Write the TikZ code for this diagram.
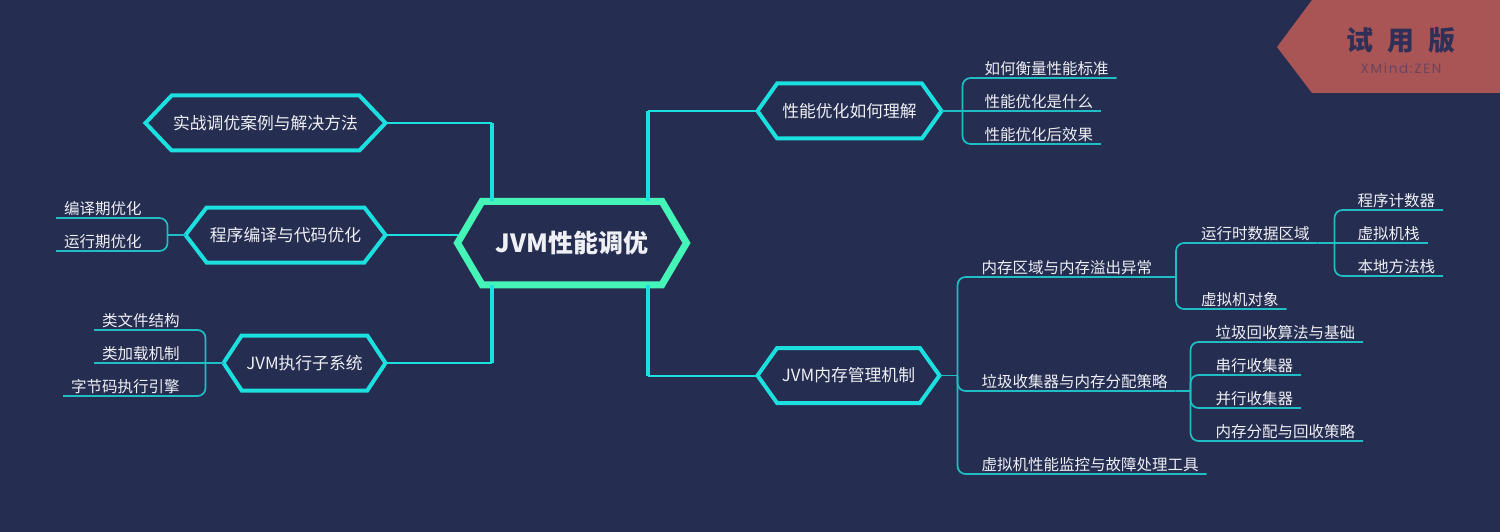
\documentclass[tikz,border=0pt]{standalone}
\usepackage{fontspec}
\setmainfont{Noto Sans CJK SC}
\newfontfamily\markfont[LetterSpace=12]{Poppins}
\usetikzlibrary{positioning,shapes.symbols}
\definecolor{bgnavy}{HTML}{252D50}
\definecolor{hexcyan}{HTML}{1CE0E0}
\definecolor{rootgreen}{HTML}{45F5B8}
\definecolor{twigcyan}{HTML}{1FBEC4}
\definecolor{lighttext}{HTML}{EEF0F5}
\definecolor{markred}{HTML}{A95455}
\definecolor{markink}{HTML}{2F2F58}
\definecolor{markgray}{HTML}{6B4560}

\begin{document}
\begin{tikzpicture}[
      x=1pt,y=-1pt,
      hexnode/.style={signal,signal to=east and west,draw=hexcyan,line width=4pt,outer sep=0pt,
        inner sep=0pt,minimum height=55pt,text=lighttext,font=\fontsize{16.8}{18}\selectfont},
      rootnode/.style={hexnode,draw=rootgreen,line width=7pt,minimum height=83.5pt,minimum width=229pt,
        signal pointer angle=119,font=\fontsize{25}{28}\selectfont\bfseries},
      leaf/.style={inner xsep=8pt,inner ysep=0pt,outer sep=0pt,text height=15pt,text depth=3.5pt,
        text=lighttext,font=\fontsize{15.5}{17}\selectfont},
      trunk/.style={draw=hexcyan,line width=4pt},
      branch/.style={draw=hexcyan,line width=2pt},
      twig/.style={draw=twigcyan,line width=1.7pt,rounded corners=8pt}]
    \fill[bgnavy] (0,0) rectangle (1500,532);
    % centre and the five hexagons
    \node[rootnode] (root) at (572,243) {JVM性能调优};
    \node[hexnode,minimum width=184pt,signal pointer angle=109,right=71pt of root,yshift=132pt] (perf) {性能优化如何理解};
    \node[hexnode,minimum width=182pt,signal pointer angle=109,right=71pt of root,yshift=-132.5pt] (mem) {JVM内存管理机制};
    \node[hexnode,minimum width=240pt,signal pointer angle=93,left=72pt of root,yshift=120pt] (case) {实战调优案例与解决方法};
    \node[hexnode,minimum width=200pt,signal pointer angle=105,left=72pt of root,yshift=8pt] (prog) {程序编译与代码优化};
    \node[hexnode,minimum width=162pt,signal pointer angle=113,left=72pt of root,yshift=-120pt] (exec) {JVM执行子系统};
    % elbows and spines
    \coordinate[left=110pt of perf.west] (perfelbow);
    \coordinate[left=110pt of mem.west] (memelbow);
    \coordinate[right=106pt of case.east] (caseelbow);
    \coordinate[right=106pt of exec.east] (execelbow);
    \coordinate[right=21pt of perf.0] (perfspine);
    \coordinate[right=18pt of mem.0] (memspine);
    \coordinate[left=18pt of prog.west] (progspine);
    \coordinate[left=18pt of exec.west] (execspine);
    % leaves, right side
    \node[leaf,above right=33pt and 35pt of perf.0,anchor=south west] (p1) {如何衡量性能标准};
    \node[leaf,below=33pt of p1.south west,anchor=south west] (p2) {性能优化是什么};
    \node[leaf,below=33pt of p2.south west,anchor=south west] (p3) {性能优化后效果};
    \node[leaf,above right=98.5pt and 34pt of mem.0,anchor=south west] (m1) {内存区域与内存溢出异常};
    \node[leaf,below=114pt of m1.south west,anchor=south west] (m2) {垃圾收集器与内存分配策略};
    \node[leaf,below=83pt of m2.south west,anchor=south west] (m3) {虚拟机性能监控与故障处理工具};
    \coordinate[right=16pt of m1.south east] (rtspine);
    \coordinate[right=15pt of m2.south east] (gcspine);
    \node[leaf,above right=34pt and 17pt of rtspine,anchor=south west] (r1) {运行时数据区域};
    \node[leaf,below=66pt of r1.south west,anchor=south west] (r2) {虚拟机对象};
    \coordinate[right=17pt of r1.south east] (rrspine);
    \node[leaf,above right=33pt and 15pt of rrspine,anchor=south west] (s1) {程序计数器};
    \node[leaf,below=33pt of s1.south west,anchor=south west] (s2) {虚拟机栈};
    \node[leaf,below=33pt of s2.south west,anchor=south west] (s3) {本地方法栈};
    \node[leaf,above right=49pt and 17pt of gcspine,anchor=south west] (g1) {垃圾回收算法与基础};
    \node[leaf,below=33pt of g1.south west,anchor=south west] (g2) {串行收集器};
    \node[leaf,below=33pt of g2.south west,anchor=south west] (g3) {并行收集器};
    \node[leaf,below=33pt of g3.south west,anchor=south west] (g4) {内存分配与回收策略};
    % leaves, left side
    \node[leaf,above left=17pt and 36pt of prog.west,anchor=south east] (a1) {编译期优化};
    \node[leaf,below=33pt of a1.south east,anchor=south east] (a2) {运行期优化};
    \node[leaf,above left=33pt and 36pt of exec.west,anchor=south east] (e1) {类文件结构};
    \node[leaf,below=33pt of e1.south east,anchor=south east] (e2) {类加载机制};
    \node[leaf,below=33pt of e2.south east,anchor=south east] (e3) {字节码执行引擎};
    % connectors from the centre
    \draw[branch] (perf.west) -- (perfelbow);
    \draw[trunk] (perfelbow) -- (perfelbow |- root.north);
    \draw[branch] (mem.west) -- (memelbow);
    \draw[trunk] (memelbow) -- (memelbow |- root.south);
    \draw[branch] (case.east) -- (caseelbow);
    \draw[trunk] (caseelbow) -- (caseelbow |- root.north);
    \draw[branch] (exec.east) -- (execelbow);
    \draw[trunk] (execelbow) -- (execelbow |- root.south);
    \draw[branch] (prog.east) -- (prog.east -| root.west);
    % connectors to the leaves
    \foreach \leafname in {p1,p3} \draw[twig] (perfspine) |- (\leafname.south east);
    \draw[twig] (perf.0) -- (p2.south east);
    \foreach \leafname in {m1,m2,m3} \draw[twig] (memspine) |- (\leafname.south east);
    \draw[twig] (mem.0) -- (memspine);
    \draw[twig] (m1.south east) -- (rtspine);
    \foreach \leafname in {r1,r2} \draw[twig] (rtspine) |- (\leafname.south east);
    \foreach \leafname in {s1,s3} \draw[twig] (rrspine) |- (\leafname.south east);
    \draw[twig] (r1.south east) -- (s2.south east);
    \draw[twig] (m2.south east) -- (gcspine);
    \foreach \leafname in {g1,g2,g3,g4} \draw[twig] (gcspine) |- (\leafname.south east);
    \draw[twig] (prog.west) -- (progspine);
    \foreach \leafname in {a1,a2} \draw[twig] (progspine) |- (\leafname.south west);
    \foreach \leafname in {e1,e3} \draw[twig] (execspine) |- (\leafname.south west);
    \draw[twig] (exec.west) -- (e2.south west);
    % trial mark
    \fill[markred] (1277,47) -- (1312,0) -- (1500,0) -- (1500,93) -- (1312,93) -- cycle;
    \node[text=markink,font=\fontsize{27}{30}\selectfont\bfseries] (marktitle) at (1401,40) {试\hspace{14pt}用\hspace{14pt}版};
    \node[text=markgray,font=\fontsize{13.5}{15}\markfont,below=12pt of marktitle.south,anchor=center] (marksub) {XMind:ZEN};
\end{tikzpicture}
\end{document}
